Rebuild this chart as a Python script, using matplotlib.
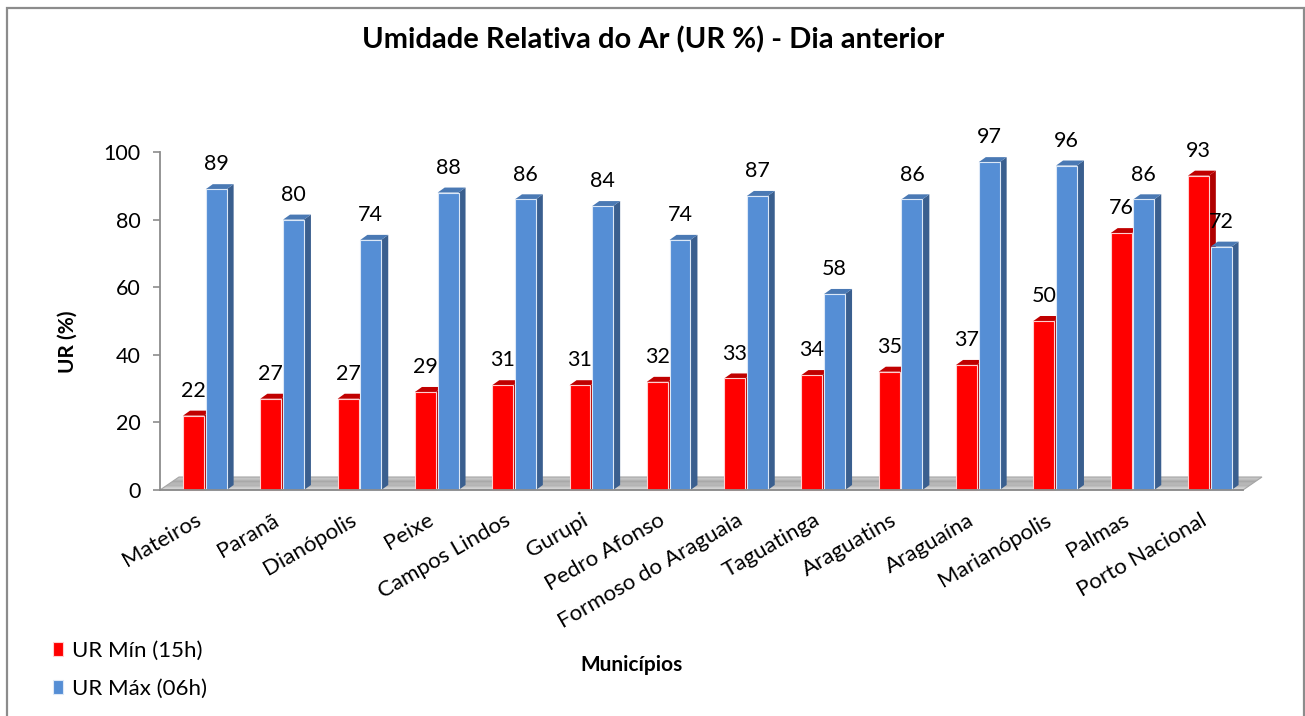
import matplotlib
matplotlib.use("Agg")
import matplotlib.pyplot as plt
from matplotlib.patches import Polygon, Rectangle
import numpy as np

categories = ["Mateiros", "Paranã", "Dianópolis", "Peixe", "Campos Lindos", "Gurupi",
              "Pedro Afonso", "Formoso do Araguaia", "Taguatinga", "Araguatins",
              "Araguaína", "Marianópolis", "Palmas", "Porto Nacional"]
ur_min = [22, 27, 27, 29, 31, 31, 32, 33, 34, 35, 37, 50, 76, 93]
ur_max = [89, 80, 74, 88, 86, 84, 74, 87, 58, 86, 97, 96, 86, 72]
yticks = [0, 20, 40, 60, 80, 100]

FONT = "Lato"
plt.rcParams['font.family'] = [FONT, 'DejaVu Sans']

W, H = 1305, 716
fig = plt.figure(figsize=(W / 100, H / 100), dpi=100)

# chart border
fig.patches.append(Rectangle((7 / W, -0.05), (1304 - 7) / W, 1.05 - 8 / H,
                             transform=fig.transFigure, fill=False,
                             edgecolor="#8c8c8c", linewidth=1.6))

ax_left, ax_right = 160 / W, 1243 / W
ax_bottom = 1 - 490 / H
ax_h = (490 - 152) / H
ax = fig.add_axes([ax_left, ax_bottom, ax_right - ax_left, ax_h])
ax.set_xlim(-0.58, 13.43)
ax.set_ylim(0, 100)

px_x = 77.3          # pixels per category
px_y = 3.38          # pixels per unit
ddx = 7 / px_x       # bar depth offset
ddy = 5 / px_y
fdx = 19 / px_x      # floor depth offset
fdy = 13 / px_y

# floor with gradient (stripes)
x0, x1 = -0.58, 13.43
cmap = matplotlib.colors.LinearSegmentedColormap.from_list(
    "g", ["#d9d9d9", "#a8a8a8", "#9a9a9a", "#bdbdbd"])
N = 16
for k in range(N):
    t0, t1 = k / N, (k + 1) / N
    ax.add_patch(Polygon([(x0 + fdx * t0, fdy * t0), (x1 + fdx * t0, fdy * t0),
                          (x1 + fdx * t1, fdy * t1), (x0 + fdx * t1, fdy * t1)],
                         closed=True, facecolor=cmap((k + 0.5) / N), edgecolor="none",
                         zorder=1, clip_on=False))
ax.add_patch(Polygon([(x0, 0), (x1, 0), (x1 + fdx, fdy), (x0 + fdx, fdy)],
                     closed=True, facecolor="none", edgecolor="#a6a6a6", linewidth=0.8,
                     zorder=1.1, clip_on=False))

bw = 0.27
gap = 0.012
red_front, red_side, red_top = "#ff0000", "#b00000", "#c00000"
blue_front, blue_side, blue_top = "#558ed5", "#3a5f8f", "#4a79b4"


def draw_bar(xl, v, side, top, z):
    xr = xl + bw
    ax.add_patch(Polygon([(xr, 0), (xr, v), (xr + ddx, v + ddy), (xr + ddx, ddy)],
                         closed=True, facecolor=side, edgecolor="none", zorder=z, clip_on=False))
    ax.add_patch(Polygon([(xl, v), (xr, v), (xr + ddx, v + ddy), (xl + ddx, v + ddy)],
                         closed=True, facecolor=top, edgecolor="none", zorder=z, clip_on=False))


xs = np.arange(len(categories))
for i in xs:
    z = 2 + i * 0.01
    draw_bar(i - gap - bw, ur_min[i], red_side, red_top, z)
    draw_bar(i + gap, ur_max[i], blue_side, blue_top, z + 0.005)

b1 = ax.bar(xs - gap - bw / 2, ur_min, width=bw, color=red_front, edgecolor="#ffd0d0",
            linewidth=0.8, label="UR Mín (15h)", zorder=2.2)
b2 = ax.bar(xs + gap + bw / 2, ur_max, width=bw, color=blue_front, edgecolor="#dce8f7",
            linewidth=0.8, label="UR Máx (06h)", zorder=2.2)
for i, (r, b) in enumerate(zip(b1, b2)):
    r.set_zorder(2 + i * 0.01 + 0.002)
    b.set_zorder(2 + i * 0.01 + 0.007)
    r.set_clip_on(False)
    b.set_clip_on(False)

for i in xs:
    ax.annotate(str(ur_min[i]), (i - gap - bw / 2, ur_min[i]), xytext=(0, 13.5),
                textcoords="offset points", ha="center", va="baseline",
                fontsize=15.5, color="black", zorder=10, annotation_clip=False)
    ax.annotate(str(ur_max[i]), (i + gap + bw / 2, ur_max[i]), xytext=(0, 13.5),
                textcoords="offset points", ha="center", va="baseline",
                fontsize=15.5, color="black", zorder=10, annotation_clip=False)

# axes styling
for s in ["top", "right"]:
    ax.spines[s].set_visible(False)
ax.spines["left"].set_color("#8c8c8c")
ax.spines["left"].set_linewidth(1.3)
ax.spines["bottom"].set_color("#8c8c8c")
ax.spines["bottom"].set_linewidth(1.3)
ax.set_yticks(yticks)
ax.set_yticklabels([str(t) for t in yticks], fontsize=15.5)
ax.tick_params(axis="y", direction="out", length=5, width=1.2, color="#8c8c8c", pad=9)
ax.set_xticks(xs)
ax.set_xticklabels([])
ax.tick_params(axis="x", length=0)
ax.patch.set_alpha(0)

trans = matplotlib.transforms.offset_copy(ax.transData, fig=fig, x=-10, y=-20, units="dots")
for i, c in enumerate(categories):
    ax.text(i, 0, c, transform=trans, rotation=30, rotation_mode="anchor",
            ha="right", va="top", fontsize=16)

fig.text(653 / W, 1 - 40 / H, "Umidade Relativa do Ar (UR %) - Dia anterior",
         ha="center", va="center", fontsize=21, fontweight="bold")
fig.text(68 / W, 1 - 342 / H, "UR (%)", rotation=90, ha="center", va="center",
         fontsize=15, fontweight="bold")
fig.text(632 / W, 1 - 665 / H, "Municípios", ha="center", va="center",
         fontsize=15, fontweight="bold")

leg = fig.legend(handles=[b1, b2], loc="center left", bbox_to_anchor=(53 / W, 1 - 670 / H),
                 frameon=False, fontsize=16, handlelength=0.45, handleheight=0.6,
                 handletextpad=0.4, labelspacing=0.8, borderpad=0, borderaxespad=0)

fig.savefig("out.png", dpi=100)
